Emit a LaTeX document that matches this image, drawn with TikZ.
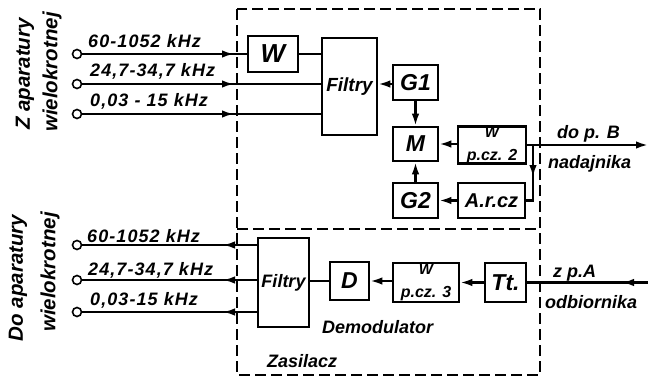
\documentclass[tikz,border=0pt]{standalone}
\usepackage{fontspec}
\setmainfont{Liberation Sans}
\newfontfamily\freqfont{Liberation Sans}[LetterSpace=6]
\usetikzlibrary{arrows.meta}
\begin{document}
\begin{tikzpicture}[x=1pt,y=-1pt,
  blk/.style={draw,line width=2.6pt,inner sep=0pt,font=\bfseries\itshape\fontsize{23}{23}\selectfont},
  conn/.style={line width=2.2pt},
  arr/.style={line width=2.2pt,-{Latex[length=12pt,width=7.5pt]}},
  term/.style={circle,draw,line width=1.6pt,fill=white,minimum size=9pt,inner sep=0pt},
  frq/.style={anchor=base west,inner sep=0pt,font=\freqfont\bfseries\itshape\fontsize{18}{18}\selectfont},
  lbl/.style={anchor=base west,inner sep=0pt,font=\bfseries\itshape\fontsize{18}{18}\selectfont},
  side/.style={rotate=90,inner sep=0pt,font=\bfseries\itshape\fontsize{20.5}{20.5}\selectfont},
  frame/.style={line width=2pt,dash pattern=on 11pt off 5pt}]
\useasboundingbox (0,0) rectangle (648,380);
% frame
\draw[frame] (237,9) rectangle (540,375);
\draw[frame] (237,229) -- (540,229);
% top blocks
\node[blk,minimum width=50pt,minimum height=36pt,font=\bfseries\itshape\fontsize{26}{26}\selectfont] (W) at (273,54) {W};
\node[blk,minimum width=55pt,minimum height=97pt,font=\bfseries\itshape\fontsize{19}{19}\selectfont] (FT) at (349.5,86.5) {Filtry};
\node[blk,minimum width=45pt,minimum height=35pt] (G1) at (415.5,82.5) {G1};
\node[blk,minimum width=45pt,minimum height=34pt] (M) at (415.5,144) {M};
\node[blk,minimum width=45pt,minimum height=35pt] (G2) at (415.5,200.5) {G2};
\node[blk,minimum width=68pt,minimum height=34pt,align=center] (W2) at (492,145)
  {{\fontsize{15}{10}\selectfont W}\\{\fontsize{16}{16}\selectfont p.cz. 2}};
\node[blk,minimum width=67pt,minimum height=35pt,font=\bfseries\itshape\fontsize{20}{20}\selectfont] (AR) at (491.5,200.5) {A.r.cz};
% bottom blocks
\node[blk,minimum width=51pt,minimum height=89pt,font=\bfseries\itshape\fontsize{18}{18}\selectfont] (FB) at (283.5,282.5) {Filtry};
\node[blk,minimum width=39pt,minimum height=38pt] (D) at (349.5,281) {D};
\node[blk,minimum width=66pt,minimum height=39pt,align=center] (W3) at (426,282.5)
  {{\fontsize{15}{10}\selectfont W}\\{\fontsize{16}{16}\selectfont p.cz. 3}};
\node[blk,minimum width=41pt,minimum height=39pt] (Tt) at (505.5,282.5) {Tt.};
% terminals
\node[term] (a1) at (77,54) {};
\node[term] (a2) at (77,84) {};
\node[term] (a3) at (77,114) {};
\node[term] (b1) at (77,245) {};
\node[term] (b2) at (77,280) {};
\node[term] (b3) at (77,312) {};
% coordinates for arrow tips at frame
\coordinate (ta1) at (234,54);
\coordinate (ta2) at (234,84);
\coordinate (ta3) at (234,114);
\coordinate (tb1) at (223,245);
\coordinate (tb2) at (223,280);
\coordinate (tb3) at (223,312);
% top input lines
\draw[conn] (a1) -- (W.west |- a1);
\draw[arr] (a1) -- (ta1);
\draw[conn] (a2) -- (FT.west |- a2);
\draw[arr] (a2) -- (ta2);
\draw[conn] (a3) -- (FT.west |- a3);
\draw[arr] (a3) -- (ta3);
\draw[conn] (W.east) -- (W.east -| FT.west);
% top internal
\draw[arr] (G1.west |- 0,84) -- (FT.east |- 0,84);
\draw[arr] (G1.south) -- (M.north);
\draw[arr] (G2.north) -- (M.south);
\draw[arr] (W2.west |- M.east) -- (M.east);
\coordinate (outB) at (648,145);
\coordinate (br) at (533,145);
\coordinate (brm) at (533,177);
\draw[arr] (W2.east |- outB) -- (outB);
\draw[conn] (br) -- (br |- AR.east) -- (AR.east);
\draw[arr] (br) -- (brm);
\draw[arr] (AR.west) -- (G2.east);
% bottom lines
\draw[conn] (b1) -- (FB.west |- b1);
\draw[arr] (FB.west |- b1) -- (tb1);
\draw[conn] (b2) -- (FB.west |- b2);
\draw[arr] (FB.west |- b2) -- (tb2);
\draw[conn] (b3) -- (FB.west |- b3);
\draw[arr] (FB.west |- b3) -- (tb3);
\draw[conn] (FB.east |- D.west) -- (D.west);
\draw[arr] (W3.west |- D.east) -- (D.east);
\draw[arr] (Tt.west) -- (W3.east |- Tt.west);
\coordinate (inA) at (648,282.5);
\coordinate (inAt) at (622,282.5);
\draw[conn] (inA) -- (Tt.east);
\draw[arr] (inA) -- (inAt);
% texts
\node[frq] (f1) at (88,47) {60-1052 kHz};
\node[frq] (f2) at (90,76) {24,7-34,7 kHz};
\node[frq] (f3) at (90,106) {0,03 - 15 kHz};
\node[frq] (g1) at (87,242) {60-1052 kHz};
\node[frq] (g2) at (88,275) {24,7-34,7 kHz};
\node[frq] (g3) at (90,305) {0,03-15 kHz};
\node[lbl] (l1) at (557,138) {do p. B};
\node[lbl] (l2) at (548,168) {nadajnika};
\node[lbl] (l3) at (553,277) {z p.A};
\node[lbl] (l4) at (545,308) {odbiornika};
\node[lbl] (l5) at (322,333) {Demodulator};
\node[lbl] (l6) at (267,367) {Zasilacz};
\node[side] (s1) at (25,74) {Z aparatury};
\node[side] (s2) at (52,72) {wielokrotnej};
\node[side] (s3) at (18,278) {Do aparatury};
\node[side] (s4) at (50,272) {wielokrotnej};
\end{tikzpicture}
\end{document}
